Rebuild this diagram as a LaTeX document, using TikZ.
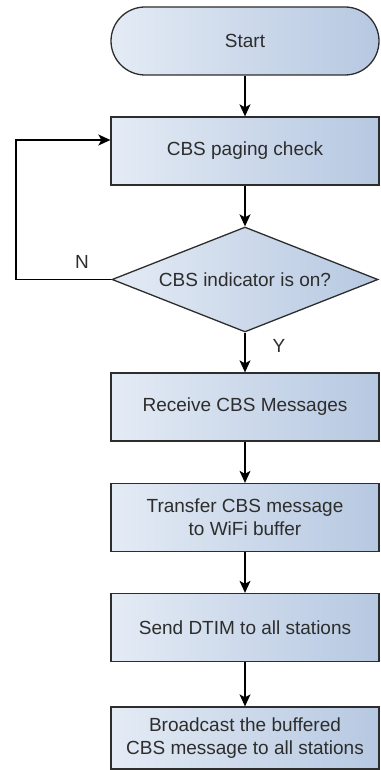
\documentclass[tikz,border=0pt]{standalone}
\usepackage{fontspec}
\setmainfont{Liberation Sans}
\usetikzlibrary{shapes.geometric,arrows.meta}
\definecolor{boxleft}{RGB}{228,235,245}
\definecolor{boxright}{RGB}{182,200,225}
\definecolor{ink}{RGB}{45,45,45}

\tikzset{
  proc/.style={draw=ink,line width=1.3pt,left color=boxleft,right color=boxright,
    minimum width=268pt,minimum height=68pt,inner sep=0pt,text=ink,align=center,
    font=\fontsize{19}{23}\selectfont},
  term/.style={proc,rounded corners=34pt},
  decide/.style={proc,shape=diamond,aspect=2.53,minimum width=266pt,minimum height=105pt},
  flow/.style={draw=black,line width=1.3pt,-{Stealth[length=12pt,width=11pt,inset=3pt]}},
  lbl/.style={text=ink,font=\fontsize{19}{23}\selectfont}
}

\begin{document}
\begin{tikzpicture}[x=1pt,y=-1pt]
  \useasboundingbox (0,0) rectangle (380,770);
  \node[term] (start) at (245,41) {Start};
  \node[proc] (chk) at (245,151) {CBS paging check};
  \node[decide] (ind) at (245,279.5) {CBS indicator is on?};
  \node[proc] (recv) at (245,407) {Receive CBS Messages};
  \node[proc] (xfer) at (245,517.5) {Transfer CBS message\\to WiFi buffer};
  \node[proc] (dtim) at (245,627.5) {Send DTIM to all stations};
  \node[proc,minimum height=62pt] (bcast) at (245,738) {Broadcast the buffered\\CBS message to all stations};
  \coordinate (back) at (16,279.5);
  \node[lbl] (no) at (82,262) {N};
  \node[lbl] (yes) at (279,346) {Y};
  \draw[flow] (start) -- (chk);
  \draw[flow] (chk) -- (ind);
  \draw[flow] (ind) -- (recv);
  \draw[flow] (recv) -- (xfer);
  \draw[flow] (xfer) -- (dtim);
  \draw[flow] (dtim) -- (bcast);
  \draw[flow] (ind.west) -- (back) |- ([yshift=11pt]chk.west);
\end{tikzpicture}
\end{document}
